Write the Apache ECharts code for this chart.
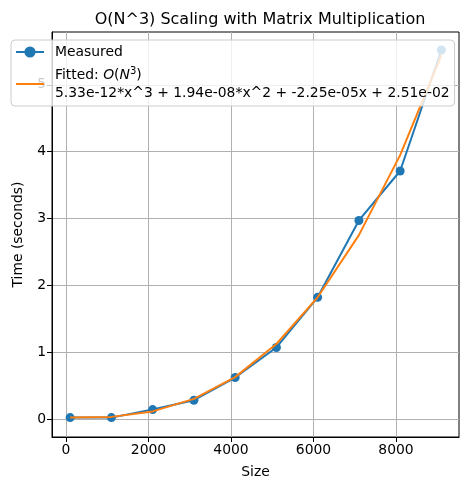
<!DOCTYPE html>
<html>
<head>
<meta charset="utf-8">
<script src="https://cdn.jsdelivr.net/npm/echarts@6/dist/echarts.min.js"></script>
<style>
  html, body { margin: 0; padding: 0; background: #fff; }
  #chart { width: 469px; height: 490px; }
</style>
</head>
<body>
<div id="chart"></div>
<script>
// matrix sizes
var sizes = [100, 1100, 2100, 3100, 4100, 5100, 6100, 7100, 8100, 9100];
// measured times (seconds)
var measured = [0.02, 0.02, 0.14, 0.28, 0.62, 1.07, 1.82, 2.97, 3.71, 5.52];
// fitted curve values at the same sizes
var fitted = [0.023, 0.031, 0.113, 0.301, 0.626, 1.122, 1.82, 2.751, 3.948, 5.443];
var xTicks = [0, 2000, 4000, 6000, 8000];
var yTicks = [0, 1, 2, 3, 4, 5];
var fitText = '5.33e-12*x^3 + 1.94e-08*x^2 + -2.25e-05x + 2.51e-02';

function pairs(xs, ys) {
    var out = [];
    for (var i = 0; i < xs.length; i++) {
        out.push([xs[i], ys[i]]);
    }
    return out;
}

var font = 'DejaVu Sans';
var fs = 13.9;
var chart = echarts.init(document.getElementById('chart'), null, { renderer: 'canvas' });
var option = {
    backgroundColor: '#fff',
    animation: false,
    textStyle: { fontFamily: font },
    title: {
        text: 'O(N^3) Scaling with Matrix Multiplication',
        left: 255, top: 7, textAlign: 'center',
        textStyle: { fontFamily: font, fontSize: 16, fontWeight: 'normal', color: '#000' }
    },
    grid: {
        left: 52, right: 10, top: 32, bottom: 53,
        show: true, borderColor: '#000', borderWidth: 1
    },
    legend: {
        orient: 'vertical',
        left: 11, top: 40,
        padding: [3, 5, 4, 4],
        itemGap: 5,
        itemWidth: 28, itemHeight: 14,
        symbolKeepAspect: true,
        backgroundColor: 'rgba(255,255,255,0.8)',
        borderColor: '#cccccc', borderWidth: 1, borderRadius: 4,
        data: [
            { name: 'Measured' },
            { name: 'Fitted', icon: 'path://M0,0 L28,0 L28,2 L0,2 Z' }
        ],
        formatter: function (name) {
            if (name === 'Fitted') {
                return 'Fitted: {i|O}({i|N}{sup|3})\n' + fitText;
            }
            return name;
        },
        textStyle: {
            fontFamily: font, fontSize: fs, color: '#000', lineHeight: 18, padding: [0, 0, 0, 6],
            rich: {
                i: { fontFamily: font, fontStyle: 'italic', fontSize: fs, color: '#000' },
                sup: { fontFamily: font, fontSize: 10, color: '#000', padding: [0, 0, 8, 0] }
            }
        }
    },
    xAxis: {
        type: 'value',
        min: -340, max: 9527,
        name: 'Size', nameLocation: 'middle', nameGap: 28,
        nameTextStyle: { fontFamily: font, fontSize: fs, color: '#000' },
        axisLine: { show: true, onZero: false, lineStyle: { color: '#000', width: 1 } },
        axisTick: { show: true, customValues: xTicks, length: 5, lineStyle: { color: '#000' } },
        axisLabel: {
            customValues: xTicks, fontFamily: font, fontSize: fs, color: '#000', margin: 6,
            formatter: function (v) { return String(v); }
        },
        splitLine: { show: true, lineStyle: { color: '#b0b0b0', width: 1 } }
    },
    yAxis: {
        type: 'value',
        min: -0.27, max: 5.79,
        name: 'Time (seconds)', nameLocation: 'middle', nameGap: 27,
        nameTextStyle: { fontFamily: font, fontSize: fs, color: '#000' },
        axisLine: { show: true, onZero: false, lineStyle: { color: '#000', width: 1 } },
        axisTick: { show: true, customValues: yTicks, length: 5, lineStyle: { color: '#000' } },
        axisLabel: {
            customValues: yTicks, fontFamily: font, fontSize: fs, color: '#000', margin: 6,
            formatter: function (v) { return String(v); }
        },
        splitLine: { show: true, lineStyle: { color: '#b0b0b0', width: 1 } }
    },
    series: [{
        name: 'Measured',
        type: 'line',
        data: pairs(sizes, measured),
        color: '#1f77b4',
        symbol: 'circle', symbolSize: 9,
        lineStyle: { width: 2 },
        z: 2
    }, {
        name: 'Fitted',
        type: 'line',
        data: pairs(sizes, fitted),
        color: '#ff7f0e',
        symbol: 'none',
        lineStyle: { width: 2 },
        z: 3
    }]
};
chart.setOption(option, true);
</script>
</body>
</html>
